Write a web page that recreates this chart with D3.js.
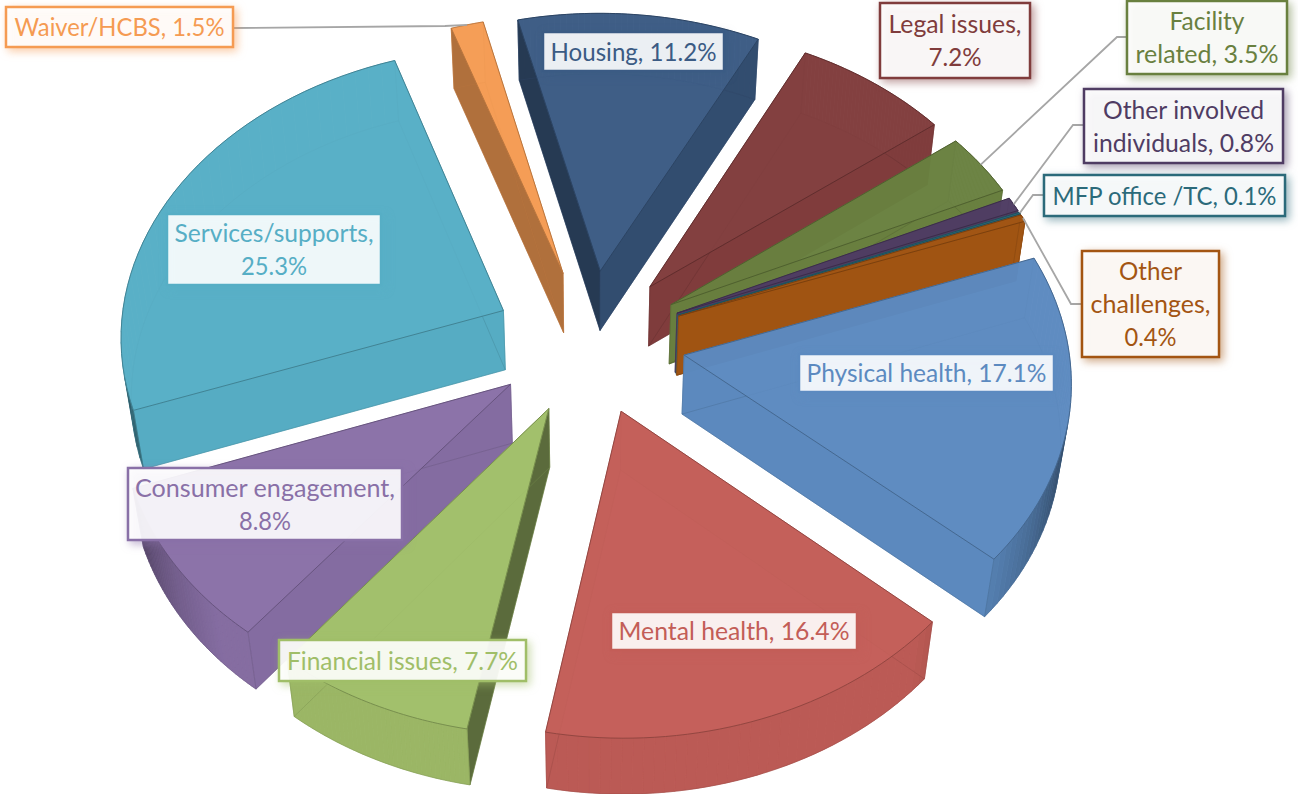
<!DOCTYPE html>
<html><head><meta charset="utf-8"><script src="https://cdnjs.cloudflare.com/ajax/libs/d3/7.8.5/d3.min.js"></script>
<style>html,body{margin:0;background:#fff}svg{display:block}text{font-family:Lato,"Open Sans",sans-serif}</style></head><body><svg id="c" width="1298" height="794"></svg>
<script>
const categories=["Housing","Legal issues","Facility related","Other involved individuals","MFP office /TC","Other challenges","Physical health","Mental health","Financial issues","Consumer engagement","Services/supports","Waiver/HCBS"];
const values=[11.2,7.2,3.5,0.8,0.1,0.4,17.1,16.4,7.7,8.8,25.3,1.5];
const colors=["#3b5b84","#803c3c","#69803f","#4f3c63","#2b6a7a","#a35512","#5c8ac0","#c35d57","#a0be68","#8970a7","#56aec5","#f59b52"];
const labelLines=[["Housing, 11.2%"],["Legal issues,","7.2%"],["Facility","related, 3.5%"],["Other involved","individuals, 0.8%"],["MFP office /TC, 0.1%"],["Other","challenges,","0.4%"],["Physical health, 17.1%"],["Mental health, 16.4%"],["Financial issues, 7.7%"],["Consumer engagement,","8.8%"],["Services/supports,","25.3%"],["Waiver/HCBS, 1.5%"]];
const labelWidths=[[166],[133,53],[75,143],[161,181],[224],[63,120,52],[240],[231],[231],[260,52],[199,66],[210]];
const labelBoxes=[[543,32,181,39],[880,3,150,75],[1127,1,160,73],[1084,89,199,74],[1044,175,241,41],[1082,251,137,106],[799,354,255,38],[611,612,246,38],[279,640,247,41],[128,468,274,72],[167,214,214,71],[6,7,227,40]];
const leaderElbows={2:[[1127,37],[1117,37]],3:[[1084,125],[1073,125]],4:[[1044,195],[1033,195]],5:[[1082,304],[1071,304]],11:[[233,28],[445,26]]};
const cam={cx:589.37,cy:371.35,f:379.64,explode:.2503,tilt:.8621,dist:8.23,depth:.2391,rotate:-.2358};
const TAU=2*Math.PI;
const pie=d3.pie().sort(null).value(d=>d).startAngle(0).endAngle(TAU)(values);
const mid=i=>(pie[i].startAngle+pie[i].endAngle)/2+cam.rotate;
function P(i,th,r,lev){const m=mid(i),X=r*Math.sin(th)+cam.explode*Math.sin(m),Z=r*Math.cos(th)+cam.explode*Math.cos(m),Y=lev*cam.depth/2,yc=Z*Math.sin(cam.tilt)+Y*Math.cos(cam.tilt),zc=-Z*Math.cos(cam.tilt)+Y*Math.sin(cam.tilt),s=cam.dist/(cam.dist-zc);return[cam.cx+cam.f*X*s,cam.cy-cam.f*yc*s]}
const svg=d3.select('#c');
const line=d3.line();
const eye={X:0,Z:-cam.dist*Math.cos(cam.tilt)};
function shade(col,n,arc){const c=Math.max(0,-Math.cos(n)),k=arc?Math.min(.96,.25+c):Math.min(.99,.05+1.15*Math.sqrt(c)),r=d3.rgb(col);return d3.rgb(r.r*k,r.g*k,r.b*k)+''}
const order=d3.range(values.length).sort((a,b)=>Math.cos(mid(b))-Math.cos(mid(a)));
order.forEach(i=>{const g=svg.append('g'),col=colors[i],s0=pie[i].startAngle+cam.rotate,s1=pie[i].endAngle+cam.rotate,st=d3.rgb(col).darker(.8)+'';
 const ths=d3.range(0,41).map(k=>s0+(s1-s0)*k/40);
 const face=lev=>[P(i,0,0,lev)].concat(ths.map(a=>P(i,a,1,lev)));
 const mm=mid(i),eX=cam.explode*Math.sin(mm),eZ=cam.explode*Math.cos(mm);
 const front=(n,th)=>{const X=Math.sin(th)+eX,Z=Math.cos(th)+eZ;return Math.sin(n)*(eye.X-X)+Math.cos(n)*(eye.Z-Z)>0};
 g.append('path').attr('d',line(face(-1))+'Z').attr('fill',col).attr('fill-opacity',.85);
 const quad=(a0,r0,a1,r1)=>[P(i,a0,r0,1),P(i,a1,r1,1),P(i,a1,r1,-1),P(i,a0,r0,-1)];
 const walls=[{n:s0-Math.PI/2,q:quad(s0,0,s0,1),f:front(s0-Math.PI/2,s0)},{n:s1+Math.PI/2,q:quad(s1,0,s1,1),f:front(s1+Math.PI/2,s1)}];
 for(let k=0;k<40;k++){const a=ths[k],b=ths[k+1],m=(a+b)/2;walls.push({n:m,q:quad(a,1,b,1),f:front(m,m),arc:1})}
 const back=g.append('g').attr('opacity',.85),fr=g.append('g').attr('opacity',.95);
 walls.filter(w=>!w.f).forEach(w=>back.append('path').attr('d',line(w.q)+'Z').attr('fill',col).attr('stroke',col).attr('stroke-width',.5));
 walls.filter(w=>w.f).forEach(w=>{const c=shade(col,w.n,w.arc);fr.append('path').attr('d',line(w.q)+'Z').attr('fill',c).attr('stroke',c).attr('stroke-width',.6)});
 g.append('path').attr('d',line(face(-1))+'Z').attr('fill','none').attr('stroke',st).attr('stroke-opacity',.4);
 [s0,s1].forEach(a=>g.append('path').attr('d',line([P(i,a,1,1),P(i,a,1,-1)])).attr('stroke',st).attr('stroke-opacity',.4).attr('fill','none'));
 g.append('path').attr('d',line([P(i,0,0,1),P(i,0,0,-1)])).attr('stroke',st).attr('stroke-opacity',.4);
 g.append('path').attr('d',line(face(1))+'Z').attr('fill',col).attr('fill-opacity',.85).attr('stroke',st).attr('stroke-width',1);
});
Object.keys(leaderElbows).forEach(k=>{const i=+k,m=mid(i),tip=P(i,m,1,1);
 svg.append('path').attr('d',line(leaderElbows[k].concat([tip]))).attr('fill','none').attr('stroke','#a6a6a6').attr('stroke-width',1.8)});
labelBoxes.forEach((b,i)=>{const col=colors[i],g=svg.append('g');
 g.append('rect').attr('x',b[0]).attr('y',b[1]).attr('width',b[2]).attr('height',b[3]).attr('fill','#fff').attr('fill-opacity',.9).attr('stroke',col).attr('stroke-width',2.5)
  .style('filter',`drop-shadow(3px 3px 4px ${d3.color(col).copy({opacity:.55})})`);
 const L=labelLines[i],lh=33,yc=b[1]+b[3]/2;
 L.forEach((s,k)=>g.append('text').attr('x',b[0]+b[2]/2).attr('y',yc+(k-(L.length-1)/2)*lh+9).attr('text-anchor','middle').attr('font-size',24.5).attr('fill',col).attr('textLength',labelWidths[i][k]).attr('lengthAdjust','spacingAndGlyphs').text(s));
});
</script></body></html>
